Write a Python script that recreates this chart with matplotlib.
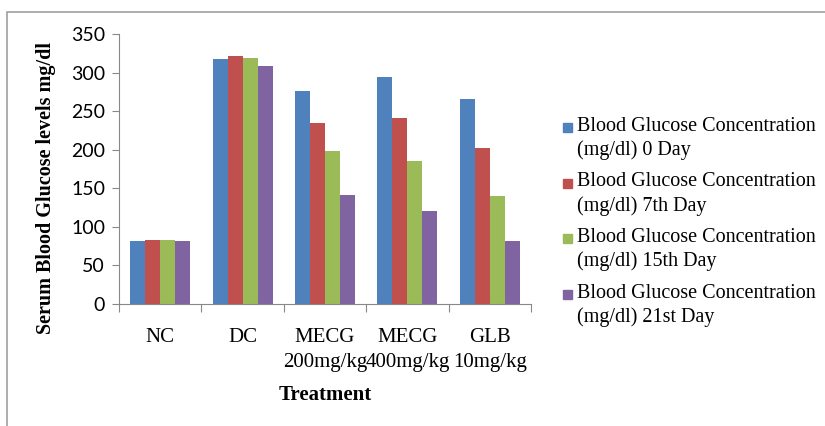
import numpy as np
import matplotlib.pyplot as plt
from matplotlib.patches import Rectangle

# Data
categories = ['NC', 'DC', 'MECG\n200mg/kg', 'MECG\n400mg/kg', 'GLB\n10mg/kg']
series_names = ['Blood Glucose Concentration\n(mg/dl) 0 Day',
                'Blood Glucose Concentration\n(mg/dl) 7th Day',
                'Blood Glucose Concentration\n(mg/dl) 15th Day',
                'Blood Glucose Concentration\n(mg/dl) 21st Day']
day0 = [82, 318, 276, 294, 266]
day7 = [83, 322, 235, 241, 202]
day15 = [83, 319, 198, 185, 140]
day21 = [82, 308, 141, 120, 82]
colors = ['#4F81BD', '#C0504D', '#9BBB59', '#8064A2']

serif = 'Liberation Serif'
W, H = 825, 426

fig = plt.figure(figsize=(W / 100, H / 100), dpi=100)
ax = fig.add_axes([119 / W, 1 - 304 / H, 412 / W, 270 / H])

# outer chart border (top and left visible, rest cut off)
fig.patches.append(Rectangle((7 / W, -0.1), 1.2, 414 / H + 0.1,
                             transform=fig.transFigure, fill=False,
                             edgecolor='#a0a0a0', linewidth=1.2))

x = np.arange(len(categories))
w = 0.182
for i, vals in enumerate([day0, day7, day15, day21]):
    ax.bar(x + (i - 1.5) * w, vals, w, color=colors[i], label=series_names[i])

ax.set_xlim(-0.5, len(categories) - 0.5)
ax.set_ylim(0, 350)
ax.set_yticks(np.arange(0, 351, 50))
ax.set_xticks(np.arange(-0.5, len(categories), 1.0))
ax.set_xticklabels([])
ax.set_xticks(x, minor=True)
ax.set_xticklabels(categories, minor=True, fontfamily=serif, fontsize=15,
                   linespacing=1.45)
ax.tick_params(axis='x', which='minor', length=0, pad=17)
ax.tick_params(axis='x', which='major', length=6, color='#888888', direction='out')
ax.tick_params(axis='y', length=5, color='#888888', labelsize=14, pad=5)
for lab in ax.get_yticklabels():
    lab.set_fontfamily('Lato')

for s in ['top', 'right']:
    ax.spines[s].set_visible(False)
for s in ['left', 'bottom']:
    ax.spines[s].set_color('#888888')

ax.set_ylabel('Serum Blood Glucose levels mg/dl', fontfamily=serif,
              fontweight='bold', fontsize=14.5)
ax.yaxis.label.set_va('center')
ax.yaxis.set_label_coords(-(119 - 46) / 412, (304 - 187.5) / 270)
ax.set_xlabel('Treatment', fontfamily=serif, fontweight='bold', fontsize=15)
ax.xaxis.set_label_coords(0.5, -(395 - 304) / 270)
ax.xaxis.label.set_va('center')

# legend: square aligned with the first text line of each entry
for i, name in enumerate(series_names):
    ytop = 117 + i * 55.5
    fig.patches.append(Rectangle((563 / W, 1 - (ytop + 15) / H), 9 / W, 9 / H,
                                 transform=fig.transFigure, color=colors[i]))
    fig.text(577 / W, 1 - ytop / H, name, fontfamily=serif, fontsize=14.5,
             va='top', ha='left', linespacing=1.3)

fig.savefig('out.png', dpi=100)
